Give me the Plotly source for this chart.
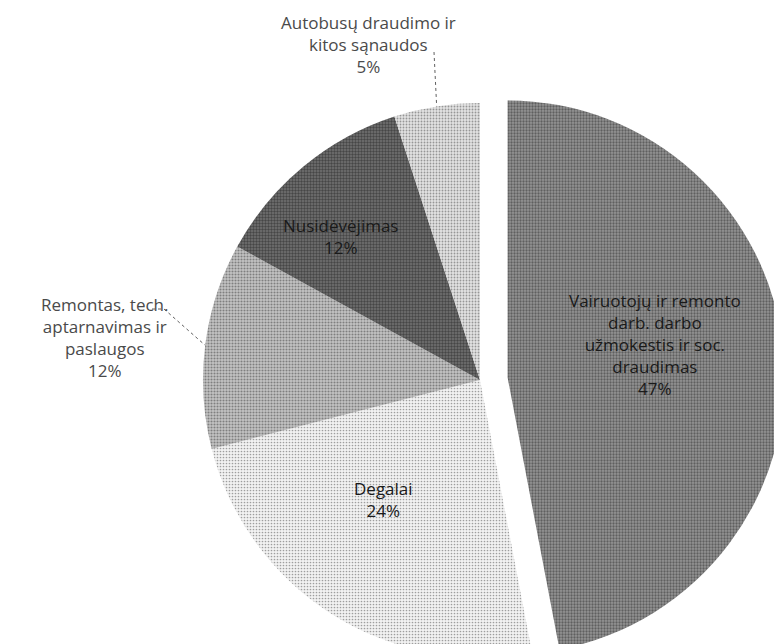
import math
import plotly.graph_objects as go

# ---- data ----
categories = [
    "Vairuotojų ir remonto darb. darbo užmokestis ir soc. draudimas",
    "Degalai",
    "Remontas, tech. aptarnavimas ir paslaugos",
    "Nusidėvėjimas",
    "Autobusų draudimo ir kitos sąnaudos",
]
display_labels = [
    "Vairuotojų ir remonto<br>darb. darbo<br>užmokestis ir soc.<br>draudimas",
    "Degalai",
    "Remontas, tech.<br>aptarnavimas ir<br>paslaugos",
    "Nusidėvėjimas",
    "Autobusų draudimo ir<br>kitos sąnaudos",
]
values = [47, 24, 12, 12, 5]

# ---- layout / style ----
W, H = 790, 690          # page is larger than the window: the pie is cropped like the original
CX, CY, R = 480, 380, 277
PULL = 0.1
pulls = [PULL, 0, 0, 0, 0]
box = 2 * R * (1 + PULL)
dom_x = [(CX - box / 2) / W, (CX + box / 2) / W]
dom_y = [1 - (CY + box / 2) / H, 1 - (CY - box / 2) / H]

bg_colors = ["#949494", "#f2f2f2", "#c4c4c4", "#727272", "#e2e2e2"]
fg_colors = ["#2a2a2a", "#4a4a4a", "#3a3a3a", "#1a1a1a", "#4a4a4a"]
solidity = [0.45, 0.25, 0.4, 0.5, 0.3]

FONT = "Open Sans"
label_px = [(655, 344), (383, 499), (105, 337), (340, 236), (368, 45)]
label_color = ["#1a1a1a", "#1a1a1a", "#4a4a4a", "#1a1a1a", "#4a4a4a"]

fig = go.Figure(
    go.Pie(
        labels=categories,
        values=values,
        sort=False,
        direction="clockwise",
        rotation=0,
        pull=pulls,
        textinfo="none",
        hoverinfo="label+percent",
        domain=dict(x=dom_x, y=dom_y),
        marker=dict(
            colors=bg_colors,
            line=dict(width=0),
            pattern=dict(
                shape=".",
                bgcolor=bg_colors,
                fgcolor=fg_colors,
                size=3,
                solidity=solidity,
                fillmode="overlay",
            ),
        ),
        showlegend=False,
    )
)

def px2paper(x, y):
    return x / W, 1 - y / H

total = sum(values)
pct = [round(v * 100 / total) for v in values]

# slice mid angles (clockwise from 12 o'clock)
mids = []
acc = 0
for v in values:
    mids.append((acc + v / 2) / total * 360)
    acc += v

annotations = []
for i, (lab, p) in enumerate(zip(display_labels, pct)):
    x, y = px2paper(*label_px[i])
    annotations.append(dict(
        x=x, y=y, xref="paper", yref="paper",
        text=f"{lab}<br>{p}%", showarrow=False,
        font=dict(family=FONT, size=17, color=label_color[i]),
        xanchor="center", yanchor="middle", align="center",
    ))

def edge_point(i, frac=1.0):
    a = math.radians(mids[i])
    return CX + frac * R * math.sin(a), CY - frac * R * math.cos(a)

shapes = []
# leader lines for outside labels
leaders = {4: [(434, 52)], 2: [(152, 309), (164, 309)]}
for i, pts in leaders.items():
    ex, ey = edge_point(i)
    path_pts = pts + [(ex, ey)]
    d = "M " + " L ".join(f"{px2paper(x, y)[0]},{px2paper(x, y)[1]}" for x, y in path_pts)
    shapes.append(dict(type="path", path=d, xref="paper", yref="paper",
                       line=dict(color="#606060", width=1, dash="dot")))

fig.update_layout(
    width=W, height=H,
    margin=dict(l=0, r=0, t=0, b=0),
    paper_bgcolor="white", plot_bgcolor="white",
    annotations=annotations,
    shapes=shapes,
)

fig.write_html(
    "out.html",
    config={"displayModeBar": False},
    post_script="document.body.style.margin='0';document.body.style.overflow='hidden';document.documentElement.style.overflow='hidden';",
)
